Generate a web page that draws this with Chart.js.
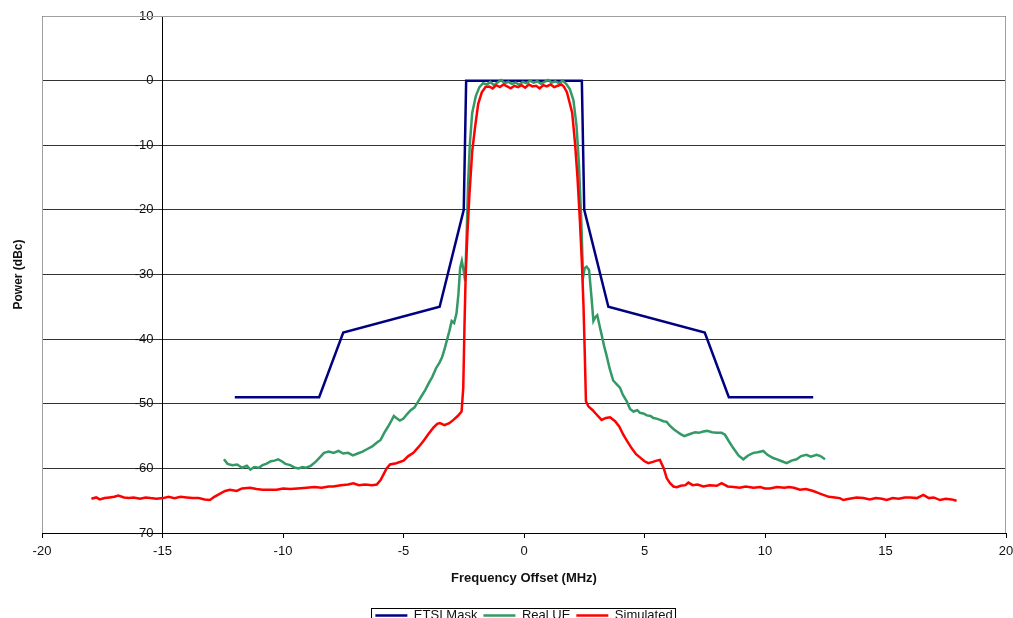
<!DOCTYPE html>
<html>
<head>
<meta charset="utf-8">
<script src="https://cdn.jsdelivr.net/npm/chart.js@4.4.0/dist/chart.umd.min.js"></script>
<style>
html, body { margin: 0; padding: 0; background: #fff; overflow: hidden; }
#wrap { position: relative; width: 1013px; height: 632px; }
</style>
</head>
<body>
<div id="wrap"><canvas id="spectrum"></canvas></div>
<script>
// ETSI spectrum mask
var maskF = [-12, -8.5, -7.5, -3.5, -2.5, -2.4, 2.4, 2.5, 3.5, 7.5, 8.5, 12];
var maskP = [-49, -49, -39, -35, -20, 0, 0, -20, -35, -39, -49, -49];

// measured UE
var ueF = [-12.45, -12.3, -12.1, -11.9, -11.7, -11.5, -11.35, -11.2, -11.0, -10.85, -10.7, -10.5, -10.35, -10.2, -10.05,
  -9.9, -9.7, -9.5, -9.35, -9.2, -9.05, -8.85, -8.65, -8.5, -8.3, -8.1, -7.9, -7.7, -7.5, -7.3, -7.1, -6.9, -6.7, -6.5,
  -6.3, -6.1, -5.95, -5.8, -5.65, -5.5, -5.4, -5.3, -5.15, -5.0, -4.85, -4.7, -4.55, -4.4, -4.25, -4.1, -3.95, -3.8,
  -3.65, -3.5, -3.4, -3.3, -3.2, -3.1, -3.0, -2.9, -2.8, -2.72, -2.65, -2.58, -2.5, -2.44, -2.38, -2.32, -2.25, -2.15,
  -2.0, -1.85, -1.7, -1.55, -1.4, -1.25, -1.1, -0.95, -0.8, -0.65, -0.5, -0.35, -0.2, -0.05, 0.1, 0.25, 0.4, 0.55, 0.7,
  0.85, 1.0, 1.15, 1.3, 1.45, 1.6, 1.75, 1.9, 2.05, 2.18, 2.28, 2.38, 2.45, 2.52, 2.6, 2.7, 2.8, 2.88, 2.96, 3.04, 3.14,
  3.22, 3.32, 3.43, 3.55, 3.7, 3.85, 3.98, 4.1, 4.26, 4.4, 4.54, 4.7, 4.81, 4.95, 5.1, 5.25, 5.37, 5.5, 5.65, 5.78, 5.92,
  6.05, 6.2, 6.34, 6.5, 6.65, 6.8, 6.95, 7.1, 7.25, 7.44, 7.6, 7.8, 8.0, 8.2, 8.34, 8.5, 8.69, 8.9, 9.1, 9.3, 9.52, 9.7,
  9.93, 10.1, 10.34, 10.5, 10.7, 10.9, 11.1, 11.31, 11.5, 11.72, 11.9, 12.14, 12.3, 12.49];
var ueP = [-58.6, -59.3, -59.5, -59.4, -59.9, -59.6, -60.2, -59.8, -59.9, -59.5, -59.3, -58.9, -58.8, -58.6, -58.9,
  -59.3, -59.5, -59.9, -60.0, -59.8, -59.9, -59.6, -59.0, -58.4, -57.6, -57.4, -57.6, -57.3, -57.7, -57.6, -58.0, -57.7,
  -57.4, -57.0, -56.6, -56.0, -55.6, -54.5, -53.6, -52.6, -51.9, -52.2, -52.6, -52.3, -51.6, -51.0, -50.6, -49.7, -48.8,
  -47.9, -46.8, -45.8, -44.5, -43.6, -42.8, -41.6, -40.2, -38.8, -37.2, -37.5, -36.0, -33.0, -29.0, -27.9, -29.5, -31.0,
  -24.0, -16.0, -10.0, -5.0, -2.4, -1.0, -0.4, -0.6, -0.2, -0.7, -0.3, 0.1, -0.4, -0.2, -0.5, -0.3, -0.6, -0.2, -0.4, 0.0,
  -0.3, -0.1, -0.5, -0.2, 0.1, -0.3, -0.1, -0.4, 0.0, -0.5, -1.3, -3.0, -7.0, -13.0, -22.0, -30.5, -29.0, -28.8, -29.3,
  -33.5, -37.2, -36.6, -36.3, -38.0, -39.3, -41.0, -42.6, -44.5, -46.4, -47.0, -47.5, -48.6, -49.6, -50.8, -51.2, -51.0,
  -51.4, -51.5, -51.8, -51.9, -52.2, -52.3, -52.5, -52.7, -52.8, -53.4, -53.9, -54.3, -54.7, -55.0, -54.8, -54.6, -54.4,
  -54.5, -54.3, -54.2, -54.4, -54.5, -54.5, -54.8, -55.8, -56.9, -58.0, -58.6, -58.0, -57.6, -57.5, -57.3, -57.9, -58.4,
  -58.6, -58.9, -59.2, -58.8, -58.6, -58.1, -57.9, -58.2, -57.9, -58.1, -58.6];

// simulated transmitter
var simF = [-17.95, -17.75, -17.6, -17.4, -17.2, -17.0, -16.83, -16.6, -16.4, -16.2, -15.93, -15.7, -15.5, -15.25,
  -14.97, -14.75, -14.5, -14.25, -14.0, -13.75, -13.5, -13.25, -13.03, -12.85, -12.61, -12.4, -12.2, -11.92, -11.7,
  -11.37, -11.1, -10.85, -10.5, -10.26, -10.0, -9.7, -9.4, -9.02, -8.7, -8.4, -8.1, -7.91, -7.6, -7.3, -7.08, -6.85,
  -6.6, -6.3, -6.11, -5.95, -5.84, -5.7, -5.56, -5.3, -5.0, -4.8, -4.59, -4.4, -4.18, -3.95, -3.76, -3.6, -3.49, -3.3,
  -3.1, -2.93, -2.75, -2.59, -2.52, -2.47, -2.42, -2.35, -2.27, -2.15, -2.03, -1.9, -1.75, -1.6, -1.45, -1.3, -1.15,
  -1.0, -0.85, -0.7, -0.55, -0.4, -0.25, -0.1, 0.05, 0.2, 0.35, 0.5, 0.65, 0.8, 0.95, 1.1, 1.25, 1.4, 1.55, 1.65, 1.78,
  1.9, 2.0, 2.12, 2.22, 2.32, 2.4, 2.47, 2.52, 2.57, 2.67, 2.85, 3.02, 3.22, 3.4, 3.57, 3.78, 3.95, 4.12, 4.3, 4.47,
  4.65, 4.81, 5.0, 5.16, 5.35, 5.5, 5.64, 5.8, 5.92, 6.06, 6.2, 6.34, 6.5, 6.7, 6.82, 7.0, 7.2, 7.44, 7.7, 8.0, 8.2,
  8.45, 8.7, 8.95, 9.2, 9.52, 9.8, 10.0, 10.2, 10.5, 10.8, 11.0, 11.2, 11.45, 11.7, 12.0, 12.2, 12.42, 12.65, 12.9,
  13.1, 13.25, 13.5, 13.8, 14.08, 14.35, 14.6, 14.85, 15.05, 15.3, 15.55, 15.8, 16.02, 16.3, 16.57, 16.8, 17.0, 17.26,
  17.5, 17.75, 17.95];
var simP = [-64.7, -64.5, -64.8, -64.6, -64.5, -64.4, -64.2, -64.5, -64.6, -64.5, -64.7, -64.5, -64.6, -64.7, -64.6,
  -64.4, -64.6, -64.4, -64.5, -64.6, -64.6, -64.8, -64.9, -64.4, -63.9, -63.5, -63.3, -63.5, -63.1, -63.0, -63.2, -63.3,
  -63.3, -63.3, -63.1, -63.2, -63.1, -63.0, -62.9, -63.0, -62.8, -62.8, -62.6, -62.5, -62.3, -62.6, -62.5, -62.6, -62.5,
  -61.8, -61.0, -60.0, -59.4, -59.2, -58.8, -58.1, -57.6, -56.8, -55.8, -54.6, -53.7, -53.1, -53.0, -53.3, -53.0, -52.5,
  -51.9, -51.2, -47.5, -38.0, -30.0, -23.8, -18.0, -11.0, -7.2, -3.6, -1.8, -1.0, -0.9, -1.2, -0.7, -1.0, -0.6, -0.9,
  -1.2, -0.8, -1.0, -0.7, -1.1, -0.6, -0.9, -0.8, -1.2, -0.7, -0.9, -0.6, -1.0, -0.8, -0.6, -0.9, -1.8, -3.5, -5.0, -9.8,
  -15.0, -21.7, -28.0, -35.0, -42.0, -49.6, -50.4, -51.0, -51.7, -52.5, -52.2, -52.1, -52.7, -53.5, -54.8, -55.9, -56.9,
  -57.8, -58.3, -58.9, -59.2, -59.0, -58.8, -58.7, -60.0, -61.5, -62.3, -62.8, -62.9, -62.7, -62.6, -62.2, -62.6, -62.5,
  -62.8, -62.6, -62.7, -62.3, -62.8, -62.9, -63.0, -62.8, -63.0, -62.9, -63.1, -63.1, -62.9, -63.0, -62.9, -63.0, -63.3,
  -63.2, -63.5, -63.8, -64.1, -64.4, -64.5, -64.6, -64.9, -64.7, -64.5, -64.6, -64.8, -64.6, -64.7, -64.9, -64.6, -64.7,
  -64.5, -64.5, -64.6, -64.1, -64.6, -64.5, -64.9, -64.7, -64.8, -65.0];

var xTicks = [-20, -15, -10, -5, 0, 5, 10, 15, 20];
var yTicks = [10, 0, -10, -20, -30, -40, -50, -60, -70];

function pairs(fs, ps) {
    return fs.map(function (f, i) { return { x: f, y: ps[i] }; });
}

var FONT = "'Liberation Sans', Arial, sans-serif";

// grey frame round the plot, y title, box round the legend
var decorations = {
    id: 'decorations',
    beforeDraw: function (chart) {
        // y axis sits inside the plot (at x = -15); move its labels clear of the tick marks
        var items = chart.scales.y.getLabelItems();
        items.forEach(function (it) {
            if (!it._moved) { it.options.translation[0] -= 9; it._moved = true; }
        });
    },
    beforeDatasetsDraw: function (chart) {
        var a = chart.chartArea, ctx = chart.ctx;
        ctx.save();
        ctx.strokeStyle = '#a0a0a0';
        ctx.lineWidth = 1;
        ctx.beginPath();
        ctx.moveTo(a.left + 0.5, a.bottom);
        ctx.lineTo(a.left + 0.5, a.top + 0.5);
        ctx.lineTo(a.right - 0.5, a.top + 0.5);
        ctx.lineTo(a.right - 0.5, a.bottom);
        ctx.stroke();
        ctx.restore();
    },
    afterDraw: function (chart) {
        var a = chart.chartArea, ctx = chart.ctx;
        ctx.save();
        ctx.fillStyle = '#111';
        ctx.font = 'bold 12px ' + FONT;
        ctx.textAlign = 'center';
        ctx.textBaseline = 'middle';
        ctx.translate(19, (a.top + a.bottom) / 2);
        ctx.rotate(-Math.PI / 2);
        ctx.fillText('Power (dBc)', 0, 0);
        ctx.restore();

        var boxes = chart.legend.legendHitBoxes;
        if (boxes && boxes.length) {
            var first = boxes[0], last = boxes[boxes.length - 1];
            ctx.save();
            ctx.strokeStyle = '#000';
            ctx.lineWidth = 1;
            ctx.strokeRect(Math.round(first.left) - 3.5, Math.round(first.top) - 0.5,
                Math.round(last.left + last.width - first.left) + 7, 40);
            ctx.restore();
        }
    }
};

var ctx = document.getElementById('spectrum').getContext('2d');

new Chart(ctx, {
    type: 'line',
    data: {
        datasets: [
            {
                label: 'ETSI Mask',
                data: pairs(maskF, maskP),
                borderColor: '#000080',
                backgroundColor: '#000080',
                borderWidth: 2.5,
                order: 3
            },
            {
                label: 'Real UE',
                data: pairs(ueF, ueP),
                borderColor: '#339966',
                backgroundColor: '#339966',
                borderWidth: 2.5,
                order: 2
            },
            {
                label: 'Simulated',
                data: pairs(simF, simP),
                borderColor: '#ff0000',
                backgroundColor: '#ff0000',
                borderWidth: 2.5,
                order: 1
            }
        ]
    },
    options: {
        responsive: true,
        maintainAspectRatio: false,
        animation: false,
        elements: { point: { radius: 0 }, line: { tension: 0 } },
        layout: { padding: { left: 42, right: 7, top: 16, bottom: 0 } },
        plugins: {
            tooltip: { enabled: false },
            legend: {
                position: 'bottom',
                fullSize: false,
                labels: {
                    usePointStyle: true,
                    pointStyle: 'line',
                    pointStyleWidth: 32,
                    padding: 6,
                    color: '#111',
                    font: { family: FONT, size: 13 },
                    sort: function (a, b) { return a.datasetIndex - b.datasetIndex; }
                }
            }
        },
        scales: {
            x: {
                type: 'linear',
                min: -20,
                max: 20,
                afterBuildTicks: function (scale) {
                    scale.ticks = xTicks.map(function (v) { return { value: v }; });
                },
                afterFit: function (scale) {
                    scale.height = 70;
                    scale.paddingLeft = 0;
                    scale.paddingRight = 0;
                },
                grid: { drawOnChartArea: false, drawTicks: true, tickLength: 5, color: '#000' },
                border: { color: '#000', width: 1 },
                ticks: { color: '#111', padding: 6, font: { family: FONT, size: 13 }, maxRotation: 0 },
                title: {
                    display: true,
                    text: 'Frequency Offset (MHz)',
                    color: '#111',
                    font: { family: FONT, size: 13, weight: 'bold' },
                    padding: { top: 4, bottom: 17 }
                }
            },
            y: {
                type: 'linear',
                min: -70,
                max: 10,
                position: { x: -15 },
                afterBuildTicks: function (scale) {
                    scale.ticks = yTicks.map(function (v) { return { value: v }; });
                },
                grid: { color: '#333', tickLength: 5 },
                border: { color: '#000', width: 1 },
                ticks: { color: '#111', padding: 6, font: { family: FONT, size: 13 } }
            }
        }
    },
    plugins: [decorations]
});
</script>
</body>
</html>
